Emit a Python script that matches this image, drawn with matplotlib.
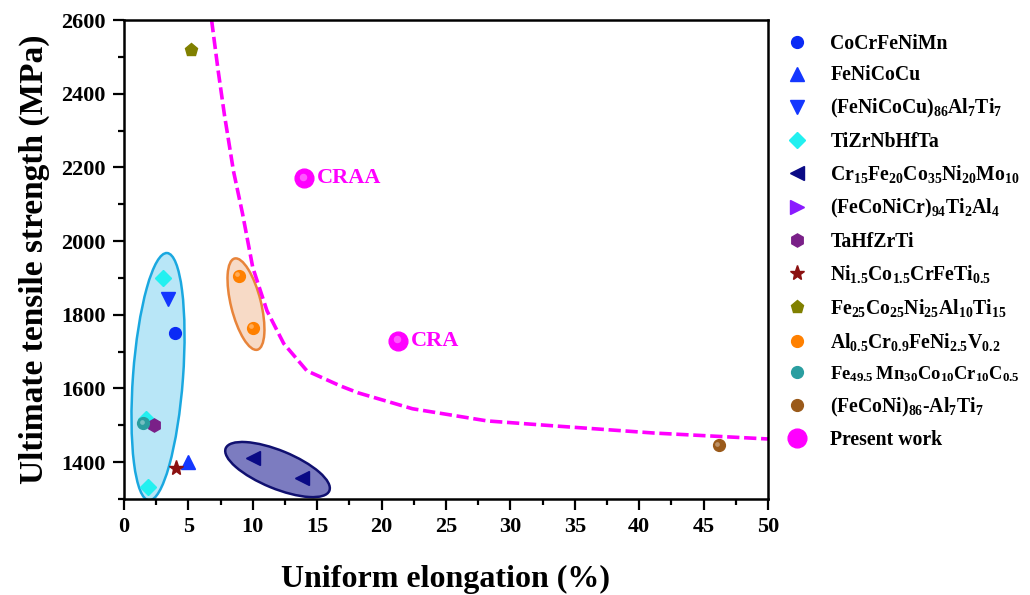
import matplotlib.pyplot as plt
from matplotlib.colors import to_rgba
from matplotlib.lines import Line2D
from matplotlib.patches import Ellipse
from matplotlib.transforms import Affine2D, offset_copy

plt.rcParams['font.family'] = ['Liberation Serif', 'DejaVu Serif']
plt.rcParams['font.weight'] = 'bold'
plt.rcParams['mathtext.fontset'] = 'custom'
plt.rcParams['mathtext.rm'] = 'Liberation Serif:bold'
plt.rcParams['mathtext.bf'] = 'Liberation Serif:bold'
plt.rcParams['mathtext.default'] = 'bf'

# --- data (elongation %, UTS MPa) ---
cocrfenimn_x, cocrfenimn_y = [3.95], [1750]
fenicocu_x, fenicocu_y = [5.0], [1400]
fenicocu_alti_x, fenicocu_alti_y = [3.4], [1843]
tizrnbhfta_x, tizrnbhfta_y = [3.0, 1.7, 1.9], [1900, 1518, 1332]
crfeconimo_x, crfeconimo_y = [10.0, 13.8], [1410, 1358]
feconicr_tial_x, feconicr_tial_y = [], []   # in legend, not visible on plot
tahfzrti_x, tahfzrti_y = [2.3], [1500]
nicocrfeti_x, nicocrfeti_y = [4.0], [1385]
fe25co25_x, fe25co25_y = [5.2], [2520]
alcrfeniv_x, alcrfeniv_y = [8.9, 10.0], [1905, 1765]
femncocrc_x, femncocrc_y = [1.5], [1505]
feconi_alti_x, feconi_alti_y = [46.2], [1446]
present_x, present_y = [14.0, 21.3], [2170, 1730]
present_names = ['CRAA', 'CRA']

trend_x = [6.8, 7.3, 7.8, 8.5, 9.2, 10.0, 11.1, 12.4, 14.2, 16.8, 18.2, 22.4, 28.2, 33.6, 41.2, 50.0]
trend_y = [2600, 2465, 2342, 2190, 2075, 1928, 1811, 1722, 1648, 1607, 1588, 1545, 1512, 1498, 1479, 1463]

# x, y, label, marker, colour, size, shaded sphere?
series = [
    (cocrfenimn_x, cocrfenimn_y, 'CoCrFeNiMn', 'o', '#0a2af5', 8.5, False),
    (fenicocu_x, fenicocu_y, 'FeNiCoCu', '^', '#1437ff', 9.5, False),
    (fenicocu_alti_x, fenicocu_alti_y, r'(FeNiCoCu)$_{86}$Al$_{7}$Ti$_{7}$', 'v', '#1437ff', 9.5, False),
    (tizrnbhfta_x, tizrnbhfta_y, 'TiZrNbHfTa', 'D', '#22f0f0', 8.5, False),
    (crfeconimo_x, crfeconimo_y, r'Cr$_{15}$Fe$_{20}$Co$_{35}$Ni$_{20}$Mo$_{10}$', '<', '#0a0a85', 9.5, False),
    (feconicr_tial_x, feconicr_tial_y, r'(FeCoNiCr)$_{94}$Ti$_{2}$Al$_{4}$', '>', '#8a1aff', 9.5, False),
    (tahfzrti_x, tahfzrti_y, 'TaHfZrTi', 'h', '#7a2088', 9.5, False),
    (nicocrfeti_x, nicocrfeti_y, r'Ni$_{1.5}$Co$_{1.5}$CrFeTi$_{0.5}$', '*', '#8b1010', 11, False),
    (fe25co25_x, fe25co25_y, r'Fe$_{25}$Co$_{25}$Ni$_{25}$Al$_{10}$Ti$_{15}$', 'p', '#808000', 9.5, False),
    (alcrfeniv_x, alcrfeniv_y, r'Al$_{0.5}$Cr$_{0.9}$FeNi$_{2.5}$V$_{0.2}$', 'o', '#ff8000', 8.5, True),
    (femncocrc_x, femncocrc_y, r'Fe$_{49.5}\,$Mn$_{30}$Co$_{10}$Cr$_{10}$C$_{0.5}$', 'o', '#2a9ea0', 8.5, True),
    (feconi_alti_x, feconi_alti_y, r'(FeCoNi)$_{86}$-Al$_{7}$Ti$_{7}$', 'o', '#9a5a1a', 8.5, True),
    (present_x, present_y, 'Present work', 'o', '#ff00ff', 13.5, True),
]

fig = plt.figure(figsize=(10.3, 5.95), dpi=100)
ax = fig.add_axes([0.1204, 0.1613, 0.6252, 0.8050])
ax.set_xlim(0, 50)
ax.set_ylim(1300, 2600)


def pixel_ellipse(cx, cy, w, h, angle, face, edge, alpha):
    # ellipse sized in screen pixels, centred on a data point
    ox, oy = ax.transData.transform((cx, cy))
    e = Ellipse((0, 0), w, h, angle=angle, transform=Affine2D().translate(ox, oy),
                facecolor=to_rgba(face, alpha), edgecolor=edge, lw=1.8, zorder=1)
    ax.add_patch(e)


pixel_ellipse(2.64, 1632, 248, 50, 85.8, '#a6e0f5', '#1aa8e0', 0.8)
pixel_ellipse(9.47, 1829, 94, 30, 104, '#f7d6c0', '#e8843a', 0.9)
pixel_ellipse(11.92, 1380, 112, 38, -22.3, '#4a4aa8', '#101070', 0.72)

ax.plot(trend_x, trend_y, color='#ff00ff', lw=2.6, ls=(0, (3.4, 1.3)), zorder=2)

shine = offset_copy(ax.transData, fig=fig, x=-1.2, y=1.2, units='points')
handles = []
for xs, ys, name, mk, col, ms, sphere in series:
    ax.plot(xs, ys, ls='none', marker=mk, color=col, ms=ms, mec=col, zorder=3)
    if sphere:
        ax.plot(xs, ys, ls='none', marker='o', color='white', alpha=0.35,
                ms=ms * 0.4, mew=0, transform=shine, zorder=4)
    handles.append(Line2D([], [], ls='none', marker=mk, color=col, ms=ms, mec=col, label=name))

for x, y, name in zip(present_x, present_y, present_names):
    ax.annotate(name, (x, y), xytext=(9, 0), textcoords='offset points',
                va='center', ha='left', color='#ff00ff', fontsize=16, fontweight='bold')

ax.set_xticks(range(0, 51, 5))
ax.set_xticks([x + 2.5 for x in range(0, 50, 5)], minor=True)
ax.set_yticks(range(1400, 2601, 200))
ax.set_yticks(range(1300, 2601, 100), minor=True)
ax.tick_params(which='major', direction='out', length=8, width=1.6, labelsize=16, pad=5)
ax.tick_params(which='minor', direction='out', length=4.5, width=1.6)
for s in ax.spines.values():
    s.set_linewidth(1.8)

ax.set_xlabel('Uniform elongation (%)', fontsize=23, fontweight='bold', labelpad=20)
ax.set_ylabel('Ultimate tensile strength (MPa)', fontsize=24, fontweight='bold', labelpad=8)

leg = fig.legend(handles=handles, loc='upper left', bbox_to_anchor=(0.745, 0.973),
                 frameon=False, fontsize=14.2, handlelength=1.25, handletextpad=1.05,
                 labelspacing=0.59, numpoints=1)
leg.get_texts()[10].set_fontsize(13.3)  # longest formula, keep it inside the figure

fig.savefig('out.png', dpi=100)
